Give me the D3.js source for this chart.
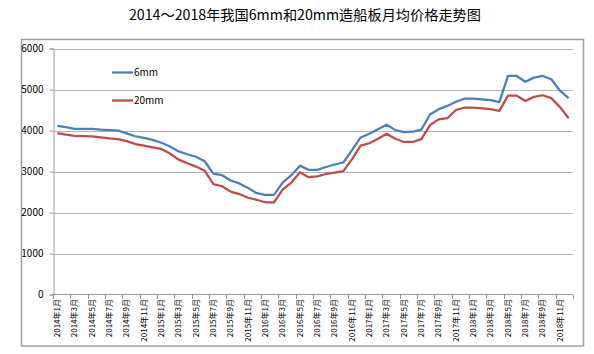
<!DOCTYPE html>
<html>
<head>
<meta charset="utf-8">
<script src="https://cdn.jsdelivr.net/npm/d3@7"></script>
<style>
  body { margin: 0; background: #fff; }
  svg { display: block; }
</style>
</head>
<body>
<div id="chart"></div>
<script>
// data
const years = [2014, 2015, 2016, 2017, 2018];
const months = [];
years.forEach(y => { for (let m = 1; m <= 12; m++) months.push(y + "年" + m + "月"); });

const price6mm = [
  4114, 4080, 4040, 4040, 4040, 4020, 4010, 4000, 3930, 3860,
  3820, 3770, 3700, 3610, 3490, 3420, 3360, 3250, 2950, 2910,
  2780, 2710, 2600, 2470, 2430, 2430, 2730, 2910, 3140, 3040,
  3040, 3110, 3170, 3220, 3520, 3830, 3920, 4030, 4140, 4010,
  3960, 3970, 4020, 4390, 4520, 4600, 4700, 4780, 4780, 4760,
  4740, 4690, 5330, 5330, 5190, 5290, 5330, 5250, 4970, 4790
];
const price20mm = [
  3935, 3900, 3870, 3865, 3855, 3835, 3810, 3790, 3740, 3670,
  3630, 3590, 3550, 3440, 3290, 3200, 3120, 3020, 2690, 2640,
  2510, 2450, 2360, 2310, 2250, 2250, 2560, 2730, 2980, 2860,
  2880, 2940, 2970, 3010, 3300, 3630, 3690, 3800, 3920, 3800,
  3720, 3720, 3790, 4130, 4270, 4300, 4500, 4560, 4560, 4540,
  4520, 4480, 4850, 4850, 4720, 4820, 4860, 4790, 4570, 4300
];
const yTicks = [0, 1000, 2000, 3000, 4000, 5000, 6000];
const seriesNames = ["6mm", "20mm"];

(function() {
  const width = 594, height = 354;
  const font = "'Noto Sans CJK SC', 'Noto Sans', sans-serif";

  const svg = d3.select("#chart").append("svg")
    .attr("width", width)
    .attr("height", height);

  // title
  svg.append("text")
    .attr("x", 305)
    .attr("y", 20)
    .attr("text-anchor", "middle")
    .attr("font-family", font)
    .attr("font-size", "14.2px")
    .attr("fill", "#000")
    .text("2014～2018年我国6mm和20mm造船板月均价格走势图");

  // outer frame
  svg.append("rect")
    .attr("x", 21.5).attr("y", 39.5)
    .attr("width", 562).attr("height", 306.5)
    .attr("fill", "none")
    .attr("stroke", "#a0a0a0")
    .attr("stroke-width", 1.5);

  // scales
  const x = d3.scaleBand()
    .domain(months)
    .range([53, 573]);

  const y = d3.scaleLinear()
    .domain([0, 6000])
    .range([294.5, 48.5]);

  // gridlines
  svg.append("g")
    .selectAll("line")
    .data(yTicks.filter(d => d > 0))
    .enter().append("line")
    .attr("x1", 53).attr("x2", 573)
    .attr("y1", d => Math.round(y(d)) + 0.5)
    .attr("y2", d => Math.round(y(d)) + 0.5)
    .attr("stroke", "#b4b4b4")
    .attr("stroke-width", 1);

  // y axis
  const yAxis = svg.append("g")
    .attr("transform", "translate(53.5,0)")
    .call(d3.axisLeft(y).tickValues(yTicks).tickSize(4).tickPadding(6).tickFormat(d3.format("d")));
  yAxis.select(".domain").attr("stroke", "#999");
  yAxis.selectAll(".tick line").attr("stroke", "#999");
  yAxis.selectAll("text")
    .attr("font-family", font)
    .attr("font-size", "10px")
    .attr("fill", "#000");

  // x axis (ticks every 2 months, labels on odd months)
  const xg = svg.append("g");
  xg.append("line")
    .attr("x1", 53).attr("x2", 573)
    .attr("y1", 294.5).attr("y2", 294.5)
    .attr("stroke", "#999");
  const tickPos = months.filter((d, i) => i % 2 === 0).map(d => x(d)).concat([x.range()[1]]);
  xg.selectAll("line.tick")
    .data(tickPos)
    .enter().append("line")
    .attr("class", "tick")
    .attr("x1", d => Math.round(d) + 0.5).attr("x2", d => Math.round(d) + 0.5)
    .attr("y1", 294.5).attr("y2", 299)
    .attr("stroke", "#999");
  xg.selectAll("text")
    .data(months.filter((d, i) => i % 2 === 0))
    .enter().append("text")
    .attr("transform", d => `translate(${x(d) + x.bandwidth() / 2},299) rotate(-90)`)
    .attr("text-anchor", "end")
    .attr("dy", "0.35em")
    .attr("font-family", font)
    .attr("font-size", "8px")
    .attr("fill", "#000")
    .text(d => d);

  // lines
  const line = d3.line()
    .x((d, i) => x(months[i]) + x.bandwidth() / 2)
    .y(d => y(d));

  const colors = ["#4A7EBB", "#BE4B48"];
  [price6mm, price20mm].forEach((s, k) => {
    svg.append("path")
      .datum(s)
      .attr("fill", "none")
      .attr("stroke", colors[k])
      .attr("stroke-width", 2.25)
      .attr("stroke-linejoin", "round")
      .attr("d", line);
  });

  // legend
  const legend = svg.append("g").attr("transform", "translate(112,72.5)");
  seriesNames.forEach((name, k) => {
    legend.append("line")
      .attr("x1", 0).attr("x2", 21)
      .attr("y1", k * 28).attr("y2", k * 28)
      .attr("stroke", colors[k])
      .attr("stroke-width", 2.25);
    legend.append("text")
      .attr("x", 22)
      .attr("y", k * 28)
      .attr("dy", "0.35em")
      .attr("font-family", font)
      .attr("font-size", "10px")
      .attr("fill", "#000")
      .text(name);
  });
})();
</script>
</body>
</html>
